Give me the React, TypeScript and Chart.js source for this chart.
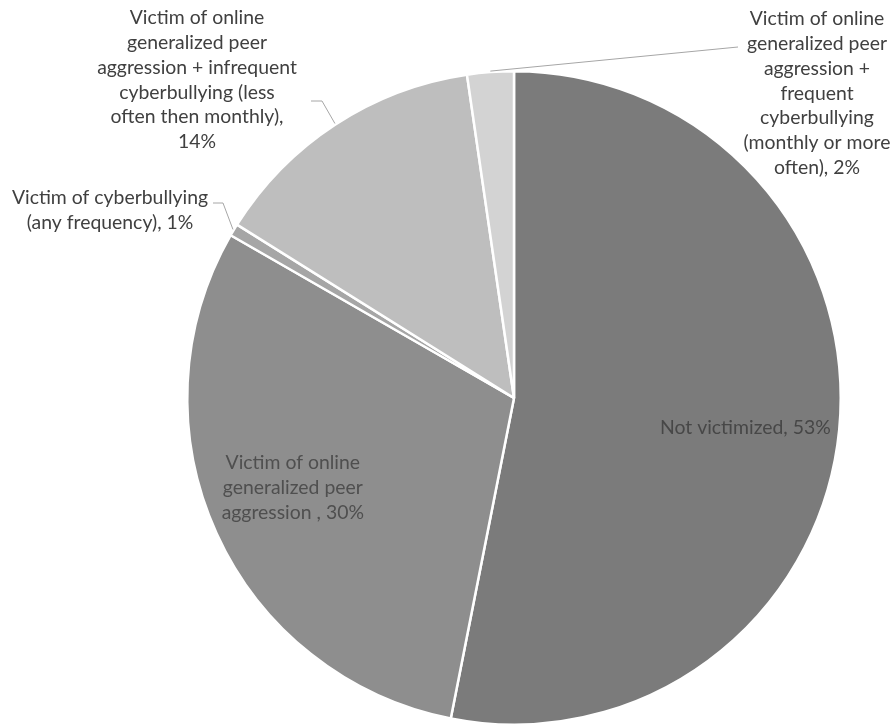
import React, { useEffect, useRef } from "react";
import { Chart, registerables } from "chart.js";
Chart.register(...registerables);

const categories = [
  "Not victimized",
  "Victim of online generalized peer aggression",
  "Victim of cyberbullying (any frequency)",
  "Victim of online generalized peer aggression + infrequent cyberbullying (less often then monthly)",
  "Victim of online generalized peer aggression + frequent cyberbullying (monthly or more often)",
];
const values = [53.1, 30.2, 0.6, 13.8, 2.3];
const labelLines = [
  ["Not victimized, 53%"],
  ["Victim of online", "generalized peer", "aggression , 30%"],
  ["Victim of cyberbullying", "(any frequency), 1%"],
  ["Victim of online", "generalized peer", "aggression + infrequent", "cyberbullying (less", "often then monthly),", "14%"],
  ["Victim of online", "generalized peer", "aggression +", "frequent", "cyberbullying", "(monthly or more", "often), 2%"],
];
const colors = ["#7b7b7b", "#8e8e8e", "#a6a6a6", "#bebebe", "#d3d3d3"];

const FONT = '19.4px Lato, "Liberation Sans", sans-serif';
const LINE_H = 24.8;

// label layout: inside labels relative to center in radius units; outside labels absolute with leader geometry
const labelLayout: any[] = [
  { inside: true, rx: 0.708, ry: 0.09, color: "#474747" },
  { inside: true, rx: -0.677, ry: 0.275, color: "#4f4f4f" },
  { inside: false, cx: 110, firstY: 198, elbow: [223, 203], end: [213, 203], color: "#404040" },
  { inside: false, cx: 197, firstY: 18, elbow: [322, 101], end: [311, 101], color: "#404040" },
  { inside: false, cx: 817, firstY: 19, elbow: null, end: [738, 47], color: "#404040" },
];

const labelPlugin = {
  id: "pieLabels",
  afterDatasetsDraw(chart: any) {
    const ctx = chart.ctx;
    const meta = chart.getDatasetMeta(0);
    ctx.save();
    ctx.font = FONT;
    ctx.textAlign = "center";
    ctx.textBaseline = "middle";
    meta.data.forEach((arc: any, i: number) => {
      const lay = labelLayout[i];
      const lines = labelLines[i];
      const { x, y, startAngle, endAngle, outerRadius } = arc.getProps(
        ["x", "y", "startAngle", "endAngle", "outerRadius"],
        true
      );
      if (lay.inside) {
        const cx = x + lay.rx * outerRadius;
        const cy = y + lay.ry * outerRadius;
        const top = cy - ((lines.length - 1) * LINE_H) / 2;
        ctx.fillStyle = lay.color;
        lines.forEach((t: string, k: number) => ctx.fillText(t, cx, top + k * LINE_H));
      } else {
        const mid = (startAngle + endAngle) / 2;
        const px = x + Math.cos(mid) * (outerRadius + 1);
        const py = y + Math.sin(mid) * (outerRadius + 1);
        ctx.strokeStyle = "#a6a6a6";
        ctx.lineWidth = 1;
        ctx.beginPath();
        ctx.moveTo(px, py);
        if (lay.elbow) ctx.lineTo(lay.elbow[0], lay.elbow[1]);
        ctx.lineTo(lay.end[0], lay.end[1]);
        ctx.stroke();
        ctx.fillStyle = lay.color;
        lines.forEach((t: string, k: number) => ctx.fillText(t, lay.cx, lay.firstY + k * LINE_H));
      }
    });
    ctx.restore();
  },
};

export default function App() {
  const ref = useRef<HTMLCanvasElement>(null);
  useEffect(() => {
    document.body.style.margin = "0";
    const chart = new Chart(ref.current as HTMLCanvasElement, {
      type: "pie",
      data: {
        labels: categories,
        datasets: [
          {
            data: values,
            backgroundColor: colors,
            borderColor: "#ffffff",
            borderWidth: 2.5,
          },
        ],
      },
      options: {
        responsive: false,
        animation: false,
        layout: { padding: { top: 70, left: 136, right: 0, bottom: 0 } },
        plugins: { legend: { display: false }, tooltip: { enabled: false } },
      },
      plugins: [labelPlugin],
    });
    return () => chart.destroy();
  }, []);
  return (
    <div style={{ width: 892, height: 726, background: "#ffffff" }}>
      <canvas ref={ref} width={892} height={726} />
    </div>
  );
}
